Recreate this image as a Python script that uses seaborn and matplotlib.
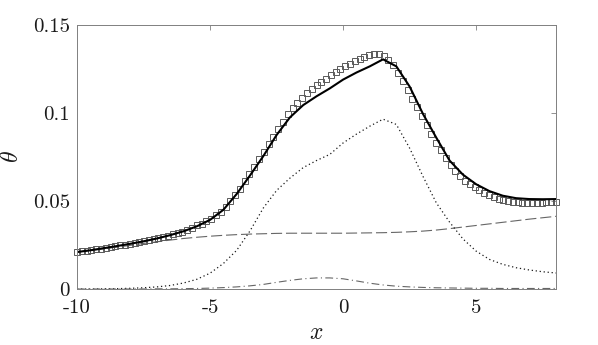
import numpy as np
import pandas as pd
import matplotlib
matplotlib.use("Agg")
import matplotlib.pyplot as plt
import seaborn as sns

# sample positions of the curves (every 0.5 in x)
x_line = [-10.0, -9.5, -9.0, -8.5, -8.0, -7.5, -7.0, -6.5, -6.0, -5.5, -5.0, -4.5,
          -4.0, -3.5, -3.0, -2.5, -2.0, -1.5, -1.0, -0.5, 0.0, 0.5, 1.0, 1.5,
          2.0, 2.5, 3.0, 3.5, 4.0, 4.5, 5.0, 5.5, 6.0, 6.5, 7.0, 7.5, 8.0]

theta_total = [0.0210, 0.0220, 0.0232, 0.0244, 0.0257, 0.0271, 0.0287, 0.0306, 0.0328,
               0.0356, 0.0393, 0.0450, 0.0540, 0.0645, 0.0755, 0.0875, 0.0975, 0.1045,
               0.1095, 0.1140, 0.1190, 0.1230, 0.1265, 0.1305, 0.1265, 0.1150, 0.0995,
               0.0860, 0.0730, 0.0650, 0.0595, 0.0556, 0.0530, 0.0516, 0.0511, 0.0510,
               0.0511]

theta_dashed = [0.0210, 0.0219, 0.0228, 0.0238, 0.0248, 0.0259, 0.0268, 0.0278, 0.0287,
                0.0294, 0.0300, 0.0305, 0.0309, 0.0312, 0.0314, 0.0316, 0.0317, 0.0317,
                0.0317, 0.0317, 0.0317, 0.0318, 0.0319, 0.0320, 0.0322, 0.0325, 0.0329,
                0.0335, 0.0343, 0.0352, 0.0361, 0.0370, 0.0379, 0.0388, 0.0397, 0.0405,
                0.0413]

theta_dotted = [0.0000, 0.0000, 0.0001, 0.0002, 0.0004, 0.0007, 0.0012, 0.0020, 0.0034,
                0.0055, 0.0090, 0.0145, 0.0220, 0.0330, 0.0460, 0.0560, 0.0630, 0.0690,
                0.0730, 0.0765, 0.0830, 0.0880, 0.0925, 0.0965, 0.0935, 0.0800, 0.0640,
                0.0490, 0.0380, 0.0285, 0.0215, 0.0168, 0.0140, 0.0121, 0.0108, 0.0098,
                0.0091]

theta_dashdot = [0.0000, 0.0000, 0.0000, 0.0000, 0.0000, 0.0000, 0.0001, 0.0001, 0.0002,
                 0.0003, 0.0005, 0.0008, 0.0012, 0.0018, 0.0026, 0.0038, 0.0049, 0.0058,
                 0.0063, 0.0063, 0.0058, 0.0046, 0.0033, 0.0023, 0.0016, 0.0012, 0.0009,
                 0.0007, 0.0006, 0.0005, 0.0004, 0.0004, 0.0003, 0.0003, 0.0003, 0.0003,
                 0.0003]

# reference data drawn as open squares
x_sq = np.round(np.linspace(-10, 8, 101), 2)
theta_sq = [0.0210, 0.0214, 0.0218, 0.0222, 0.0226, 0.0230, 0.0234, 0.0239, 0.0243, 0.0248,
            0.0252, 0.0257, 0.0262, 0.0267, 0.0273, 0.0278, 0.0283, 0.0289, 0.0297, 0.0304,
            0.0312, 0.0319, 0.0326, 0.0337, 0.0349, 0.0361, 0.0372, 0.0384, 0.0398, 0.0419,
            0.0440, 0.0467, 0.0500, 0.0534, 0.0571, 0.0611, 0.0651, 0.0693, 0.0736, 0.0780,
            0.0823, 0.0866, 0.0909, 0.0950, 0.0992, 0.1027, 0.1058, 0.1088, 0.1113, 0.1137,
            0.1160, 0.1178, 0.1196, 0.1214, 0.1232, 0.1250, 0.1266, 0.1281, 0.1295, 0.1308,
            0.1320, 0.1332, 0.1338, 0.1337, 0.1326, 0.1302, 0.1270, 0.1229, 0.1183, 0.1132,
            0.1082, 0.1032, 0.0981, 0.0931, 0.0880, 0.0830, 0.0787, 0.0744, 0.0703, 0.0673,
            0.0642, 0.0616, 0.0596, 0.0577, 0.0560, 0.0546, 0.0532, 0.0522, 0.0513, 0.0505,
            0.0500, 0.0496, 0.0493, 0.0491, 0.0490, 0.0490, 0.0490, 0.0490, 0.0492, 0.0494,
            0.0497]

x_ticks = [-10, -5, 0, 5]
x_ticklabels = ["-10", "-5", "0", "5"]
y_ticks = [0, 0.05, 0.1, 0.15]
y_ticklabels = ["0", "0.05", "0.1", "0.15"]

sns.set_style("white")
plt.rcParams["font.family"] = ["cmr10", "DejaVu Serif"]
plt.rcParams["mathtext.fontset"] = "cm"
plt.rcParams["axes.unicode_minus"] = False

df = pd.DataFrame({
    "x": x_line,
    "total": theta_total,
    "dashed": theta_dashed,
    "dotted": theta_dotted,
    "dashdot": theta_dashdot,
})
df_sq = pd.DataFrame({"x": x_sq, "theta": theta_sq})

fig = plt.figure(figsize=(5.98, 3.45), dpi=100)
ax = fig.add_axes([0.1288, 0.1623, 0.801, 0.7652])

sns.lineplot(data=df, x="x", y="dashed", ax=ax, color="0.4", lw=0.8,
             linestyle=(0, (10, 3.5)))
sns.lineplot(data=df, x="x", y="dotted", ax=ax, color="0.1", lw=0.9,
             linestyle=(0, (1, 2.2)))
sns.lineplot(data=df, x="x", y="dashdot", ax=ax, color="0.4", lw=0.8,
             linestyle=(0, (7, 3, 1, 3)))
sns.lineplot(data=df_sq, x="x", y="theta", ax=ax, linestyle="", marker="s",
             markersize=4.6, markerfacecolor="none", markeredgecolor="0.35",
             markeredgewidth=0.7, clip_on=False)
sns.lineplot(data=df, x="x", y="total", ax=ax, color="black", lw=1.5)

ax.set_xlim(-10, 8)
ax.set_ylim(0, 0.15)
ax.set_xticks(x_ticks)
ax.set_xticklabels(x_ticklabels)
ax.set_yticks(y_ticks)
ax.set_yticklabels(y_ticklabels)
ax.tick_params(direction="in", length=3.5, width=0.6, color="0.5",
               top=True, right=True, labelsize=15, pad=5, labelcolor="0.1")
ax.tick_params(axis="x", pad=7)

for sp in ax.spines.values():
    sp.set_visible(True)
    sp.set_color("0.5")
    sp.set_linewidth(0.7)

ax.set_xlabel(r"$x$", fontsize=17, color="0.1")
ax.set_ylabel(r"$\theta$", fontsize=17, color="0.1")
ax.xaxis.set_label_coords(0.5, -0.125)
ax.yaxis.set_label_coords(-0.113, 0.5)

fig.savefig("out.png", dpi=100)
